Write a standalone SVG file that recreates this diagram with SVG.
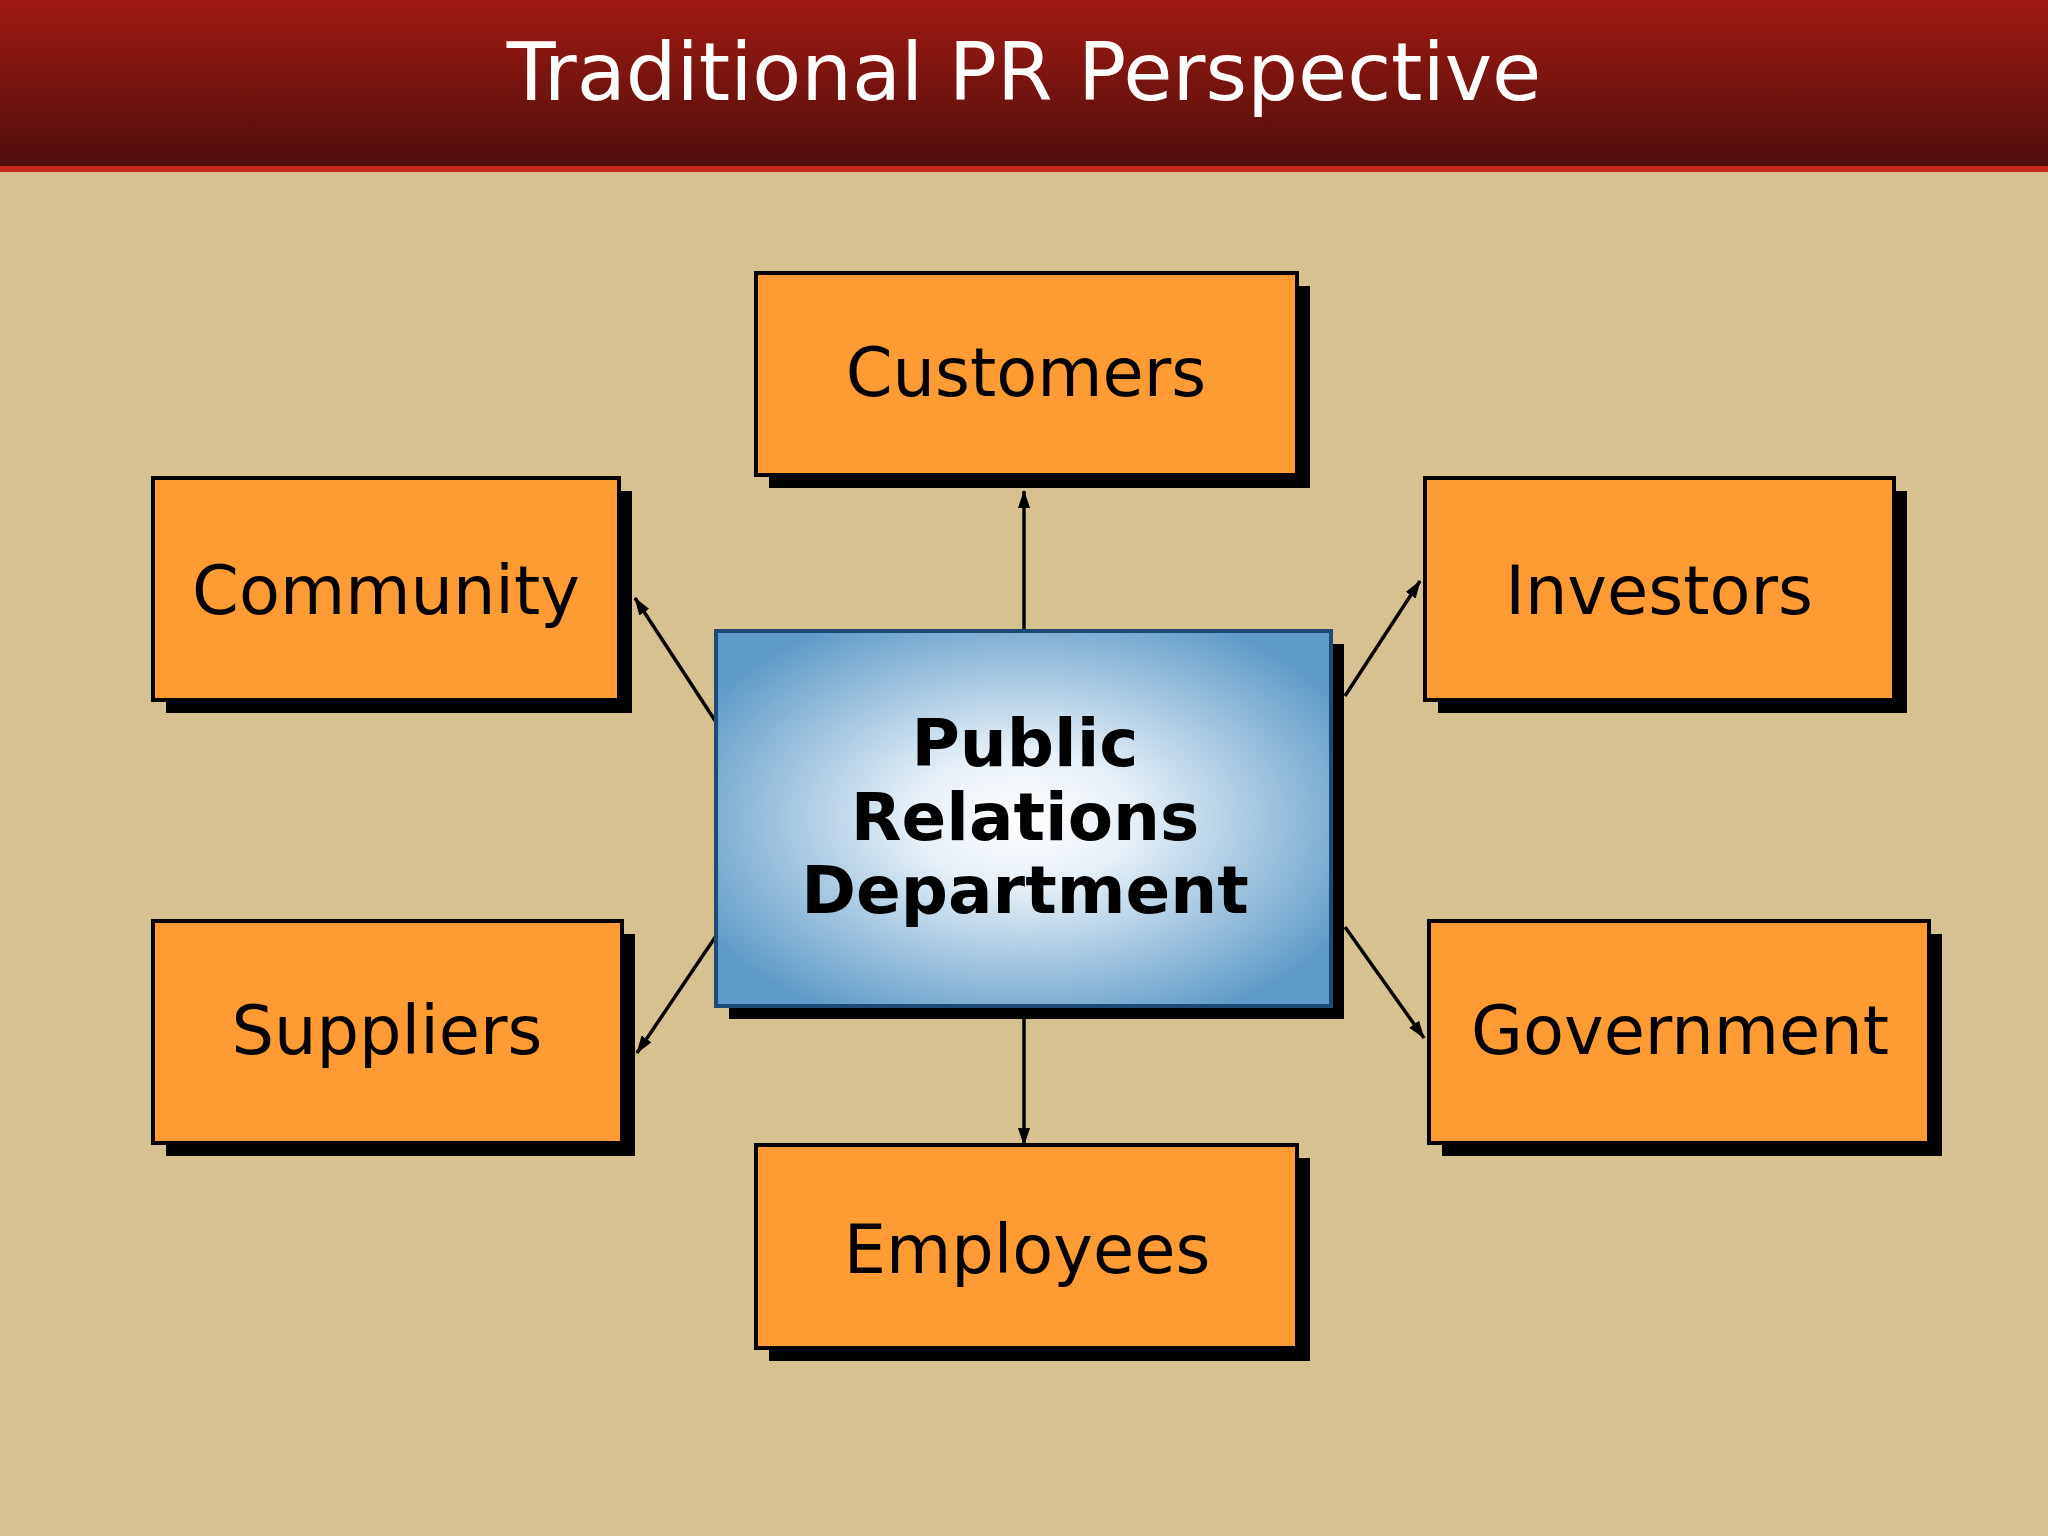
<svg xmlns="http://www.w3.org/2000/svg" width="2048" height="1536" viewBox="0 0 2048 1536">
<defs>
<linearGradient id="hdr" x1="0" y1="0" x2="0" y2="1"><stop offset="0" stop-color="#A01A12"/><stop offset="1" stop-color="#4E0E0C"/></linearGradient>
<radialGradient id="ctr" cx="0.5" cy="0.5" r="0.6"><stop offset="0" stop-color="#FFFFFF"/><stop offset="0.3" stop-color="#E6F0F8"/><stop offset="1" stop-color="#5F9BC8"/></radialGradient>
<marker id="ah" markerWidth="18" markerHeight="14" refX="17" refY="7" orient="auto" markerUnits="userSpaceOnUse" viewBox="0 0 18 14"><path d="M0,1 L18,7 L0,13 z" fill="#000"/></marker>
<style>
.box{fill:#FF9B33;stroke:#000;stroke-width:4}
.sh{fill:#000}
.lbl{font-family:"DejaVu Sans",Verdana,sans-serif;font-size:67px;fill:#000;text-anchor:middle}
.c{stroke:#000;stroke-width:3.5;fill:none;marker-end:url(#ah)}
</style>
</defs>
<rect width="2048" height="1536" fill="#D8C190"/>
<rect width="2048" height="168" fill="url(#hdr)"/>
<rect y="166" width="2048" height="6" fill="#C8281C"/>
<text x="1024" y="100" font-family="DejaVu Sans,Verdana,sans-serif" font-size="80" fill="#fff" text-anchor="middle">Traditional PR Perspective</text>
<g id="connectors">
<line class="c" x1="1024" y1="631" x2="1024" y2="491"/>
<line class="c" x1="1024" y1="1018" x2="1024" y2="1145"/>
<line class="c" x1="716" y1="722" x2="635" y2="598"/>
<line class="c" x1="1345" y1="696" x2="1420" y2="581"/>
<line class="c" x1="716" y1="936" x2="637" y2="1053"/>
<line class="c" x1="1345" y1="927" x2="1424" y2="1038"/>
</g>
<g id="customers"><rect class="sh" x="769" y="286" width="541" height="202"/><rect class="box" x="756" y="273" width="541" height="202"/><text class="lbl" x="1026" y="396">Customers</text></g>
<g id="community"><rect class="sh" x="166" y="491" width="466" height="222"/><rect class="box" x="153" y="478" width="466" height="222"/><text class="lbl" x="386" y="614">Community</text></g>
<g id="investors"><rect class="sh" x="1438" y="491" width="469" height="222"/><rect class="box" x="1425" y="478" width="469" height="222"/><text class="lbl" x="1659" y="614">Investors</text></g>
<g id="suppliers"><rect class="sh" x="166" y="934" width="469" height="222"/><rect class="box" x="153" y="921" width="469" height="222"/><text class="lbl" x="387" y="1054">Suppliers</text></g>
<g id="government"><rect class="sh" x="1442" y="934" width="500" height="222"/><rect class="box" x="1429" y="921" width="500" height="222"/><text class="lbl" x="1680" y="1054">Government</text></g>
<g id="employees"><rect class="sh" x="769" y="1158" width="541" height="203"/><rect class="box" x="756" y="1145" width="541" height="203"/><text class="lbl" x="1027" y="1273">Employees</text></g>
<g id="center"><rect class="sh" x="729" y="644" width="615" height="375"/><rect x="716" y="631" width="615" height="375" fill="url(#ctr)" stroke="#1E4A78" stroke-width="4"/>
<text font-family="DejaVu Sans,Verdana,sans-serif" font-weight="bold" font-size="66" text-anchor="middle" fill="#000"><tspan x="1025" y="766">Public</tspan><tspan x="1025" y="840">Relations</tspan><tspan x="1025" y="913">Department</tspan></text></g>
</svg>
